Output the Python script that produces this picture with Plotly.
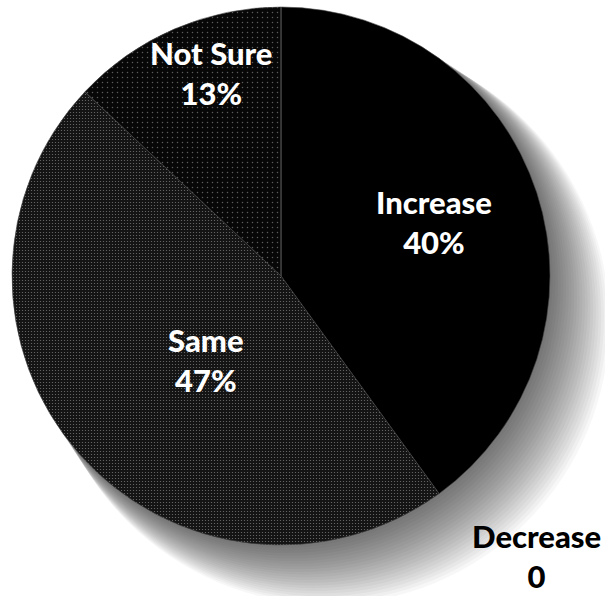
import plotly.graph_objects as go

# Survey responses
labels = ["Increase", "Same", "Not Sure", "Decrease"]
values = [40, 47, 13, 0]

W, H = 605, 596
CX, CY, R = 281, 276, 269          # pie centre and radius in pixels

# label anchor points (pixels) and text colours
label_xy = [(434, 222), (206, 360), (211, 73), (536, 556)]
label_color = ["white", "white", "white", "black"]

slice_colors = ["#000000", "#141414", "#070707", "#000000"]
dot_colors = ["#000000", "#707070", "#5c5c5c", "#000000"]


def px(x):
    return x / W


def py(y):
    return 1 - y / H


fig = go.Figure()

fig.add_trace(go.Pie(
    labels=labels,
    values=values,
    sort=False,
    direction="clockwise",
    rotation=0,
    textinfo="none",
    hoverinfo="label+value",
    showlegend=False,
    marker=dict(
        colors=slice_colors,
        line=dict(color="#4a4a4a", width=0.6),
        pattern=dict(
            shape=["", ".", ".", ""],
            fgcolor=dot_colors,
            bgcolor=slice_colors,
            fillmode="replace",
            size=[4, 3, 5, 4],
            solidity=[0.1, 0.13, 0.07, 0.1],
        ),
    ),
    domain=dict(x=[px(CX - R), px(CX + R)], y=[py(CY + R), py(CY - R)]),
))

# soft drop shadow towards the lower right, built from stacked translucent discs
shapes = []
N = 22
for k in range(1, N + 1):
    off = k * 2.1
    rr = R + k * 0.6
    shapes.append(dict(
        type="circle", xref="paper", yref="paper", layer="below",
        x0=px(CX + off - rr), x1=px(CX + off + rr),
        y0=py(CY + off + rr), y1=py(CY + off - rr),
        fillcolor="black", opacity=0.03, line=dict(width=0),
    ))

annotations = []
for lab, val, (x, y), col in zip(labels, values, label_xy, label_color):
    txt = f"{lab}<br>{val}%" if val else f"{lab}<br>0"
    annotations.append(dict(
        x=px(x), y=py(y), xref="paper", yref="paper",
        text=txt, showarrow=False, xanchor="center", yanchor="middle",
        font=dict(family="Lato", size=31, color=col, weight=900),
    ))

fig.update_layout(
    width=W, height=H,
    margin=dict(l=0, r=0, t=0, b=0),
    paper_bgcolor="white",
    plot_bgcolor="white",
    shapes=shapes,
    annotations=annotations,
)

fig.write_html("out.html")
